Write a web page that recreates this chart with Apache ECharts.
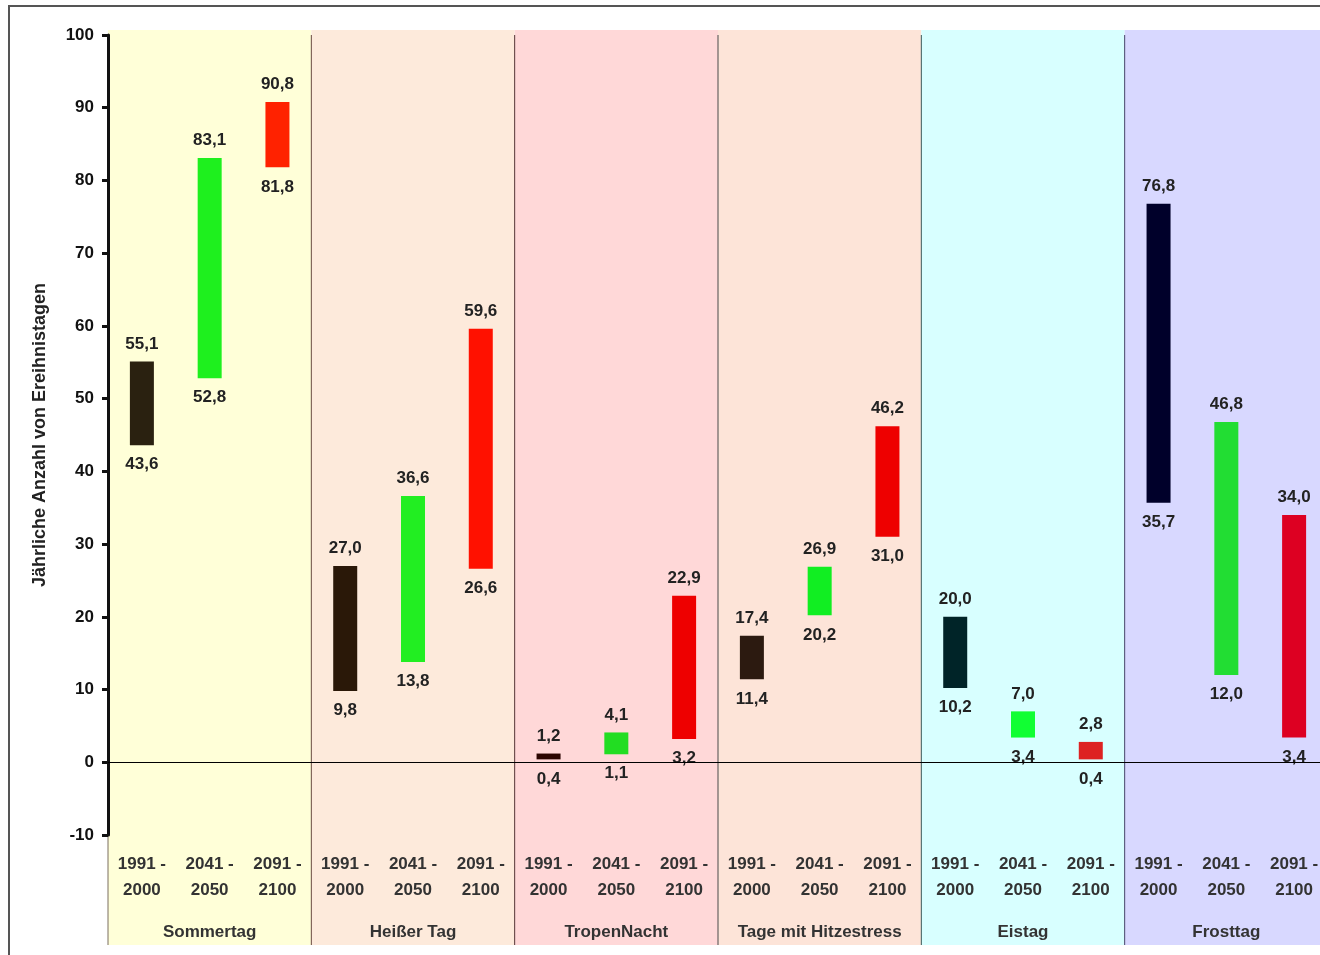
<!DOCTYPE html>
<html>
<head>
<meta charset="utf-8">
<title>Ereignistage</title>
<script src="https://cdn.jsdelivr.net/npm/echarts@6/dist/echarts.min.js"></script>
<style>
  html, body { margin: 0; padding: 0; background: #fff; overflow: hidden; }
  #main { width: 1340px; height: 955px; }
</style>
</head>
<body>
<div id="main"></div>
<script>
// Zeiträume (je Gruppe dreimal)
const periods = ['1991 -\n2000', '2041 -\n2050', '2091 -\n2100'];
const groups = ['Sommertag', 'Heißer Tag', 'TropenNacht', 'Tage mit Hitzestress', 'Eistag', 'Frosttag'];

// untere / obere Werte je Balken (Gruppe x Zeitraum)
const lowValues = [43.6, 52.8, 81.8, 9.8, 13.8, 26.6, 0.4, 1.1, 3.2, 11.4, 20.2, 31.0, 10.2, 3.4, 0.4, 35.7, 12.0, 3.4];
const highValues = [55.1, 83.1, 90.8, 27.0, 36.6, 59.6, 1.2, 4.1, 22.9, 17.4, 26.9, 46.2, 20.0, 7.0, 2.8, 76.8, 46.8, 34.0];

const yTicks = {min: -10, max: 100, interval: 10};

// Farben
const barColors = [
    '#2a2110', '#1ef01e', '#ff2200',
    '#2a1808', '#22ee22', '#ff1100',
    '#2b0500', '#22dd22', '#ee0000',
    '#2c1a10', '#11ee22', '#ee0000',
    '#002428', '#11ff33', '#dd2222',
    '#00002a', '#22dd33', '#dd0022'
];
const bgColors = ['#ffffd8', '#fdeadb', '#ffd8d8', '#fde4d8', '#d8ffff', '#d8d8ff'];
const lineColors = ['#7a6e60', '#6a4a40', '#553333', '#4a4a4a', '#3a5a5a', '#44446a'];

const categories = [];
groups.forEach(function (g) {
    periods.forEach(function (p) { categories.push(p); });
});

const fmt = function (v) { return v.toFixed(1).replace('.', ','); };
const font = 'Liberation Sans, Arial, sans-serif';

const mychart = echarts.init(document.getElementById('main'));

const option = {
    animation: false,
    backgroundColor: '#fff',
    textStyle: {fontFamily: font},
    graphic: [{
        type: 'rect',
        shape: {x: 9, y: 6, width: 1400, height: 1000},
        style: {fill: null, stroke: '#555', lineWidth: 2},
        silent: true
    }],
    // Diagramm ragt rechts etwas über den Bildrand hinaus
    grid: {left: 108, top: 35, right: 12, height: 800, containLabel: false},
    xAxis: [
        {
            type: 'category',
            data: categories,
            position: 'bottom',
            axisLine: {show: false},
            axisTick: {show: false},
            axisLabel: {
                interval: 0, margin: 16, fontSize: 17, fontWeight: 'bold',
                color: '#333', lineHeight: 26, fontFamily: font
            }
        },
        {
            type: 'category',
            data: groups,
            position: 'bottom',
            axisLine: {show: false},
            axisTick: {show: false},
            axisLabel: {
                interval: 0, margin: 88, fontSize: 17, fontWeight: 'bold',
                color: '#333', lineHeight: 18, fontFamily: font
            }
        }
    ],
    yAxis: {
        type: 'value',
        min: yTicks.min, max: yTicks.max, interval: yTicks.interval,
        name: 'Jährliche Anzahl von Ereihnistagen',
        nameLocation: 'middle',
        nameGap: 59,
        nameTextStyle: {fontSize: 18, fontWeight: 'bold', color: '#222', fontFamily: font},
        axisLine: {show: true, lineStyle: {color: '#111', width: 3}},
        axisTick: {show: true, length: 6, lineStyle: {color: '#111', width: 3}},
        axisLabel: {margin: 14, fontSize: 17, fontWeight: 'bold', color: '#111', fontFamily: font},
        splitLine: {show: false}
    },
    series: [
        {
            // Hintergrund der Gruppen + Trennlinien
            type: 'custom',
            xAxisIndex: 1,
            yAxisIndex: 0,
            z: -1,
            silent: true,
            clip: false,
            data: groups.map(function (g, i) { return [i]; }),
            renderItem: function (params, api) {
                const i = api.value(0);
                const c = api.coord([i, yTicks.max]);
                const w = api.size([1, 0])[0];
                const bottom = api.coord([i, yTicks.min])[1] + 110;
                const top = c[1] - 5;
                const x0 = c[0] - w / 2;
                return {
                    type: 'group',
                    children: [
                        {type: 'rect', shape: {x: x0, y: top, width: w, height: bottom - top},
                            style: {fill: bgColors[i]}},
                        {type: 'line', shape: {x1: x0, y1: c[1], x2: x0, y2: bottom},
                            style: {stroke: lineColors[i], lineWidth: 1}}
                    ]
                };
            }
        },
        {
            name: 'base',
            type: 'bar',
            stack: 'range',
            barWidth: 24,
            itemStyle: {color: 'transparent'},
            label: {
                show: true, position: 'insideTop', distance: 11,
                fontSize: 17, fontWeight: 'bold', color: '#222', fontFamily: font,
                formatter: function (p) { return fmt(p.value); }
            },
            data: lowValues,
            markLine: {
                silent: true,
                symbol: 'none',
                label: {show: false},
                lineStyle: {color: '#000', width: 1, type: 'solid'},
                data: [{yAxis: 0}]
            }
        },
        {
            name: 'range',
            type: 'bar',
            stack: 'range',
            barWidth: 24,
            label: {
                show: true, position: 'top', distance: 9,
                fontSize: 17, fontWeight: 'bold', color: '#222', fontFamily: font,
                formatter: function (p) { return fmt(highValues[p.dataIndex]); }
            },
            data: highValues.map(function (h, i) {
                return {value: +(h - lowValues[i]).toFixed(1), itemStyle: {color: barColors[i]}};
            })
        }
    ]
};
mychart.setOption(option);
</script>
</body>
</html>
